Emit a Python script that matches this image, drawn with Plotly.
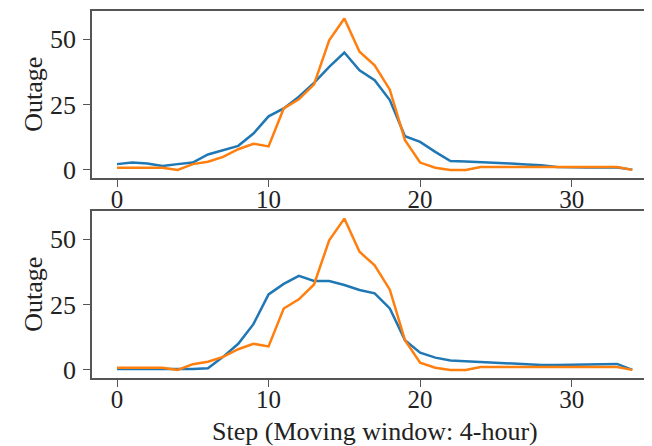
import plotly.graph_objects as go
from plotly.subplots import make_subplots

steps = list(range(35))

top_blue = [2.2, 2.8, 2.4, 1.5, 2.2, 2.8, 5.9, 7.5, 9.2, 13.9, 20.5, 23.5, 28.0, 33.3, 39.4, 44.9,
            38.1, 34.3, 26.7, 12.9, 10.7, 6.9, 3.4, 3.2, 3.0, 2.7, 2.4, 2.1, 1.8, 1.1, 0.9, 0.9,
            0.9, 0.9, 0.1]
orange = [0.8, 0.8, 0.8, 0.8, 0.0, 2.2, 3.1, 5.0, 7.9, 10.0, 9.0, 23.5, 27.0, 32.7, 49.6, 57.9,
          45.2, 40.0, 30.7, 11.4, 2.8, 0.8, 0.0, 0.0, 1.1, 1.1, 1.1, 1.1, 1.1, 1.1, 1.1, 1.1,
          1.1, 1.1, 0.0]
bottom_blue = [0.3, 0.3, 0.3, 0.3, 0.3, 0.3, 0.6, 5.0, 10.0, 17.5, 28.9, 32.9, 36.0, 34.0, 34.0,
               32.5, 30.6, 29.3, 23.5, 11.4, 6.6, 4.7, 3.6, 3.3, 2.9, 2.6, 2.4, 2.2, 1.9, 1.9,
               2.0, 2.0, 2.0, 2.3, 0.0]

x_ticks = [0, 10, 20, 30]
y_ticks = [0, 25, 50]
y_title = "Outage"
x_title = "Step (Moving window: 4-hour)"

BLUE = "#1f77b4"
ORANGE = "#ff7f0e"
FONT = "Liberation Serif"
TXT = "#222222"

fig = make_subplots(rows=2, cols=1, vertical_spacing=0.09)

for row, blue in ((1, top_blue), (2, bottom_blue)):
    fig.add_trace(go.Scatter(x=steps, y=blue, mode="lines", line=dict(color=BLUE, width=2.5),
                             showlegend=False), row=row, col=1)
    fig.add_trace(go.Scatter(x=steps, y=orange, mode="lines", line=dict(color=ORANGE, width=2.5),
                             showlegend=False), row=row, col=1)

axis_common = dict(showgrid=False, zeroline=False, showline=True, linecolor="#555555",
                   linewidth=1.7, ticks="outside", ticklen=7, tickcolor="#555555", tickwidth=1.4,
                   automargin=False)

for r in (1, 2):
    fig.update_xaxes(range=[-1.65, 35.3], tickvals=x_ticks, mirror=True, row=r, col=1,
                     ticklabelstandoff=-9, tickfont=dict(family=FONT, size=25, color=TXT),
                     **axis_common)
    fig.update_yaxes(range=[-3.1, 60.8], tickvals=y_ticks, mirror=False, row=r, col=1,
                     ticklabelstandoff=2, tickfont=dict(family=FONT, size=26, color=TXT),
                     **axis_common)

# the page body adds an 8px offset; margins compensate so the plot lands where the reference has it
fig.update_layout(
    width=652, height=446,
    margin=dict(l=84, r=8, t=3, b=76, autoexpand=False),
    paper_bgcolor="white", plot_bgcolor="white",
    font=dict(family=FONT),
)
fig.update_layout(yaxis=dict(domain=[0.545, 1.0]), yaxis2=dict(domain=[0.0, 0.455]))

for yc in ((1.0 + 0.545) / 2, 0.455 / 2):
    fig.add_annotation(text=y_title, xref="paper", yref="paper", x=-0.105, y=yc,
                       xanchor="center", yanchor="middle", textangle=-90, showarrow=False,
                       font=dict(family=FONT, size=26, color=TXT))
fig.add_annotation(text=x_title, xref="paper", yref="paper", x=0.505, y=-0.147,
                   xanchor="center", yanchor="middle", showarrow=False,
                   font=dict(family=FONT, size=26, color=TXT))

fig.write_html("out.html")
